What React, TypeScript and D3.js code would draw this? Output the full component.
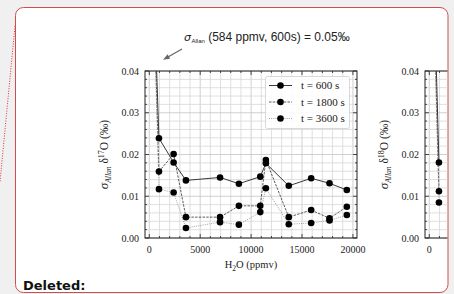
import React, { useEffect, useRef } from 'react';
import * as d3 from 'd3';

// H2O concentration steps (ppmv) and Allan deviation of d17O (permil)
const ppmv = [584, 950, 2390, 3600, 6950, 8800, 10900, 11450, 13700, 15900, 17700, 19400];
const sd17_600 = [0.05, 0.0239, 0.0181, 0.0138, 0.0145, 0.013, 0.0147, 0.0179, 0.0125, 0.0143, 0.0131, 0.0115];
const sd17_1800 = [0.046, 0.0159, 0.0201, 0.005, 0.005, 0.0077, 0.0077, 0.0187, 0.005, 0.0067, 0.0047, 0.0075];
const sd17_3600 = [0.043, 0.0117, 0.0109, 0.0024, 0.0038, 0.0032, 0.0062, 0.0119, 0.0033, 0.0036, 0.0042, 0.0055];

// right-hand panel (d18O), only the first steps show before the page edge
const ppmv18 = [584, 950];
const sd18_600 = [0.05, 0.0181];
const sd18_1800 = [0.045, 0.0112];
const sd18_3600 = [0.042, 0.0085];

const seriesLabels = ['t = 600 s', 't = 1800 s', 't = 3600 s'];
const xTicks = [0, 5000, 10000, 15000, 20000];
const yTicks = [0, 0.01, 0.02, 0.03, 0.04];

const serif = "'Liberation Serif', 'Times New Roman', serif";
const sans = "'Liberation Sans', Arial, sans-serif";

const lineStyles = [
  { stroke: '#222', dash: null, width: 0.9 },
  { stroke: '#333', dash: '2.5,1.2', width: 0.8 },
  { stroke: '#888', dash: '1,1.2', width: 0.8 },
];

type Panel = {
  left: number;
  id: string;
  xs: number[];
  series: number[][];
  iso: string;
  clipRight: number;
};

const drawPanel = (root: any, p: Panel) => {
  const x = d3.scaleLinear().domain([-420, 20400]).range([p.left, p.left + 212]);
  const y = d3.scaleLinear().domain([0, 0.04]).range([238, 71]);
  const [x0, x1] = x.range();
  const [yb, yt] = y.range();

  const outer = root.append('g').attr('clip-path', `url(#page-${p.id})`);
  root.append('clipPath').attr('id', `page-${p.id}`)
    .append('rect').attr('x', 0).attr('y', 0).attr('width', p.clipRight).attr('height', 294);
  root.append('clipPath').attr('id', `plot-${p.id}`)
    .append('rect').attr('x', x0).attr('y', yt).attr('width', x1 - x0).attr('height', yb - yt);

  const xMinor = d3.range(0, 20001, 1000);
  const yMinor = d3.range(0, 0.0401, 0.002);

  // grid
  const grid = outer.append('g');
  grid.selectAll('.gx').data(xMinor).enter().append('line')
    .attr('x1', d => x(d)).attr('x2', d => x(d)).attr('y1', yt).attr('y2', yb)
    .attr('stroke', d => (d % 5000 === 0 ? '#c4c4c4' : '#d8d8d8')).attr('stroke-width', 0.8);
  grid.selectAll('.gy').data(yMinor).enter().append('line')
    .attr('x1', x0).attr('x2', x1).attr('y1', d => y(d)).attr('y2', d => y(d))
    .attr('stroke', (d, i) => (i % 5 === 0 ? '#c4c4c4' : '#d8d8d8')).attr('stroke-width', 0.8);

  // data
  const plot = outer.append('g').attr('clip-path', `url(#plot-${p.id})`);
  const line = d3.line<number>().x((d, i) => x(p.xs[i])).y(d => y(d));
  p.series.forEach((vals, k) => {
    const st = lineStyles[k];
    plot.append('path').attr('d', line(vals)).attr('fill', 'none')
      .attr('stroke', st.stroke).attr('stroke-width', st.width)
      .attr('stroke-dasharray', st.dash);
  });
  p.series.forEach(vals => {
    plot.selectAll(null).data(vals).enter().append('circle')
      .attr('cx', (d, i) => x(p.xs[i])).attr('cy', d => y(d)).attr('r', 3.3)
      .attr('fill', '#000');
  });

  // frame + ticks (inward, all sides)
  const ax = outer.append('g').attr('stroke', '#222');
  ax.append('rect').attr('x', x0).attr('y', yt).attr('width', x1 - x0).attr('height', yb - yt)
    .attr('fill', 'none').attr('stroke-width', 1);
  xMinor.forEach(d => {
    const len = d % 5000 === 0 ? 4 : 2;
    ax.append('line').attr('x1', x(d)).attr('x2', x(d)).attr('y1', yb).attr('y2', yb - len).attr('stroke-width', 0.8);
    ax.append('line').attr('x1', x(d)).attr('x2', x(d)).attr('y1', yt).attr('y2', yt + len).attr('stroke-width', 0.8);
  });
  yMinor.forEach((d, i) => {
    const len = i % 5 === 0 ? 4 : 2;
    ax.append('line').attr('x1', x0).attr('x2', x0 + len).attr('y1', y(d)).attr('y2', y(d)).attr('stroke-width', 0.8);
    ax.append('line').attr('x1', x1).attr('x2', x1 - len).attr('y1', y(d)).attr('y2', y(d)).attr('stroke-width', 0.8);
  });

  // tick labels; only those that fall inside the visible page part
  const lbl = outer.append('g').attr('font-family', serif).attr('font-size', 10).attr('fill', '#222');
  lbl.selectAll('.xt').data(xTicks.filter(d => x(d) + 14 < p.clipRight)).enter().append('text')
    .attr('x', d => x(d)).attr('y', yb + 15).attr('text-anchor', 'middle').text(d => String(d));
  lbl.selectAll('.yt').data(yTicks).enter().append('text')
    .attr('x', x0 - 6).attr('y', d => y(d) + 3.5).attr('text-anchor', 'end').text(d => d.toFixed(2));

  // axis titles
  const yl = outer.append('text').attr('font-family', serif).attr('font-size', 11.5).attr('fill', '#222')
    .attr('text-anchor', 'middle')
    .attr('transform', `translate(${x0 - 37},${(yt + yb) / 2}) rotate(-90)`);
  yl.append('tspan').attr('font-style', 'italic').attr('font-size', 13).text('σ');
  yl.append('tspan').attr('font-style', 'italic').attr('font-size', 7.5).attr('dy', 2.5).text('Allan');
  yl.append('tspan').attr('dy', -2.5).text(' δ');
  yl.append('tspan').attr('font-size', 8).attr('dy', -4.5).text(p.iso);
  yl.append('tspan').attr('dy', 4.5).text('O (‰)');

  if (x1 < p.clipRight) {
    const xl = outer.append('text').attr('font-family', serif).attr('font-size', 10.5).attr('fill', '#222')
      .attr('text-anchor', 'middle').attr('x', (x0 + x1) / 2).attr('y', 268);
    xl.append('tspan').text('H');
    xl.append('tspan').attr('font-size', 7.5).attr('dy', 2.5).text('2');
    xl.append('tspan').attr('dy', -2.5).text('O (ppmv)');
  }

  return { x, y };
};

const App = () => {
  const svgRef = useRef<SVGSVGElement>(null);

  useEffect(() => {
    const svg = d3.select(svgRef.current);
    svg.selectAll('*').remove();

    svg.append('rect').attr('width', 454).attr('height', 294).attr('fill', '#f0f0f0');
    svg.append('rect').attr('x', 15.5).attr('y', 7.5).attr('width', 432.5).attr('height', 285)
      .attr('rx', 8).attr('fill', '#fff').attr('stroke', '#d24c4c').attr('stroke-width', 1);
    svg.append('line').attr('x1', 15).attr('y1', 26).attr('x2', 0).attr('y2', 182)
      .attr('stroke', '#d33').attr('stroke-width', 1).attr('stroke-dasharray', '1,1.5');

    drawPanel(svg, { left: 145, id: 'a', xs: ppmv, series: [sd17_600, sd17_1800, sd17_3600], iso: '17', clipRight: 454 });
    drawPanel(svg, { left: 425, id: 'b', xs: ppmv18, series: [sd18_600, sd18_1800, sd18_3600], iso: '18', clipRight: 447.5 });

    // legend
    const lg = svg.append('g');
    lg.append('rect').attr('x', 265.5).attr('y', 76.5).attr('width', 84).attr('height', 52).attr('rx', 2)
      .attr('fill', '#fff').attr('fill-opacity', 0.85).attr('stroke', '#cfcfcf').attr('stroke-width', 0.8);
    seriesLabels.forEach((s, k) => {
      const cy = 85.5 + k * 16.5;
      const st = lineStyles[k];
      lg.append('line').attr('x1', 269).attr('x2', 292).attr('y1', cy).attr('y2', cy)
        .attr('stroke', st.stroke).attr('stroke-width', st.width).attr('stroke-dasharray', st.dash);
      lg.append('circle').attr('cx', 280.5).attr('cy', cy).attr('r', 3.3).attr('fill', '#000');
      lg.append('text').attr('x', 301).attr('y', cy + 3.8).attr('font-family', serif).attr('font-size', 11)
        .attr('fill', '#222').text(s);
    });

    // annotation
    const an = svg.append('text').attr('font-family', sans).attr('font-size', 12).attr('fill', '#222')
      .attr('x', 184).attr('y', 41);
    an.append('tspan').attr('font-style', 'italic').attr('font-family', "'DejaVu Sans', sans-serif").attr('font-size', 11).text('σ');
    an.append('tspan').attr('font-size', 6).attr('dy', 2).attr('dx', 0.5).text('Allan');
    an.append('tspan').attr('dy', -2).text(' (584 ppmv, 600s) = 0.05‰');

    svg.append('line').attr('x1', 182).attr('y1', 49).attr('x2', 168).attr('y2', 57)
      .attr('stroke', '#666').attr('stroke-width', 1.2);
    svg.append('path').attr('d', 'M163,59.8 L167.6,54.3 L170.1,58.7 Z').attr('fill', '#666');

    svg.append('text').attr('x', 23).attr('y', 290).attr('font-family', "'DejaVu Sans', Verdana, sans-serif")
      .attr('font-weight', 'bold').attr('font-size', 13).attr('fill', '#111').text('Deleted:');
  }, []);

  return (
    <div style={{ position: 'fixed', left: 0, top: 0 }}>
      <svg ref={svgRef} width={454} height={294} style={{ display: 'block' }} />
    </div>
  );
};

export default App;
